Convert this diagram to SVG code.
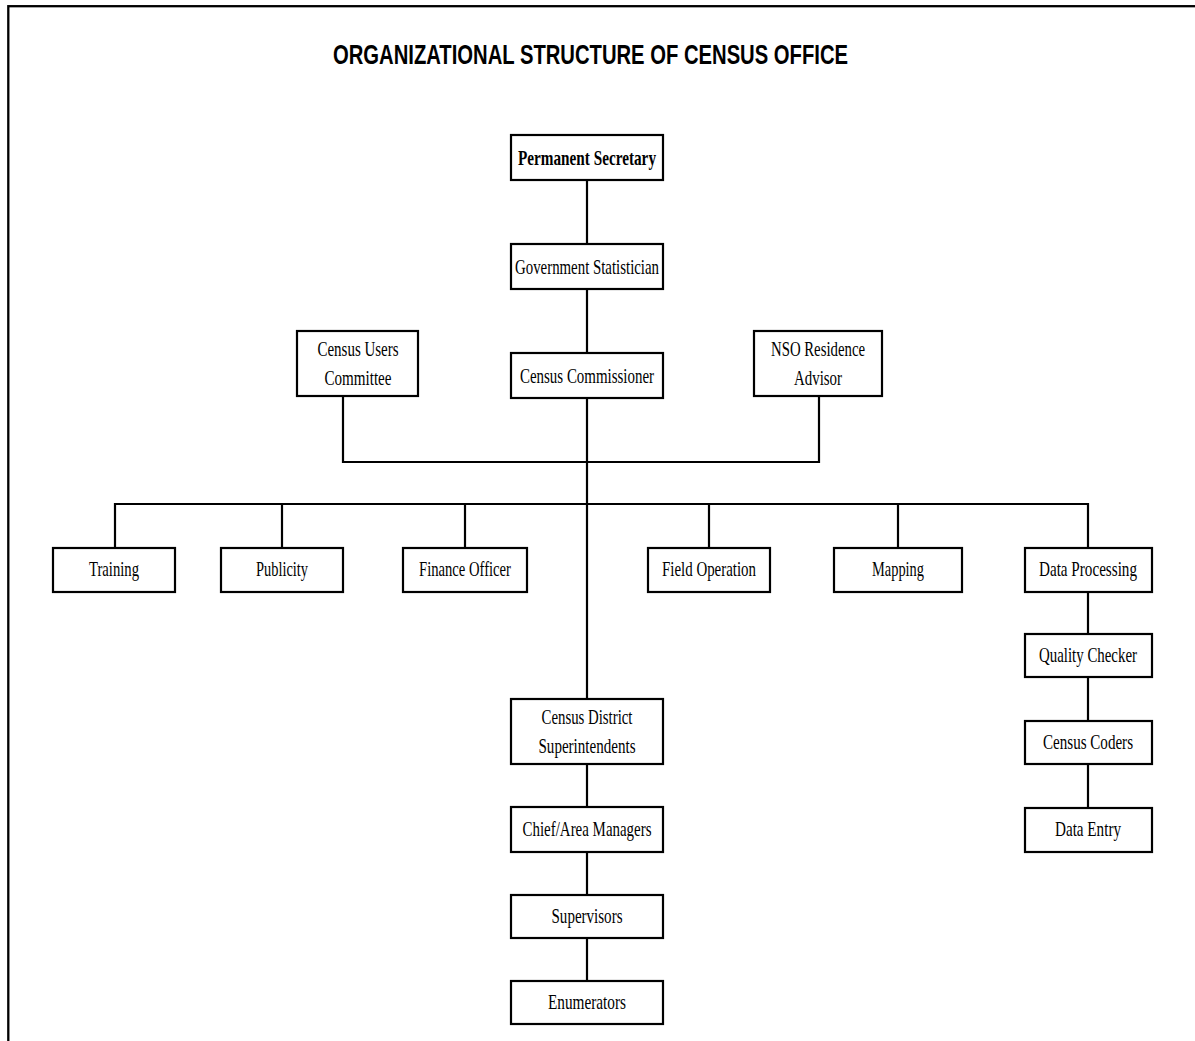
<svg xmlns="http://www.w3.org/2000/svg" width="1195" height="1041" viewBox="0 0 1195 1041">
<style>
.bx{fill:#fff;stroke:#000;stroke-width:2.2}
.t{font-family:"Liberation Serif","Times New Roman",serif;font-size:22px;fill:#000;text-anchor:middle}
.b{font-weight:bold}
.ln{stroke:#000;stroke-width:2.2;fill:none}
.ttl{font-family:"Liberation Sans",Arial,sans-serif;font-size:28px;font-weight:bold;fill:#000;text-anchor:middle}
</style>
<rect x="0" y="0" width="1195" height="1041" fill="#fff"/>
<rect x="8.3" y="6.2" width="1250" height="1100" fill="none" stroke="#000" stroke-width="2.3"/>
<text class="ttl" x="590.5" y="64" textLength="515" lengthAdjust="spacingAndGlyphs">ORGANIZATIONAL STRUCTURE OF CENSUS OFFICE</text>
<g id="connectors">
<path class="ln" d="M587 180V244M587 289V353M587 398V699M587 764V807M587 852V895M587 938V981"/>
<path class="ln" d="M343 396V462H819V396"/>
<path class="ln" d="M115 548V504H1088V548M282 504V548M465 504V548M709 504V548M898 504V548"/>
<path class="ln" d="M1088 592V634M1088 677V721M1088 764V808"/>
</g>
<g id="permanent-secretary"><rect class="bx" x="511" y="135" width="152" height="45"/><text class="t b" x="587" y="165" textLength="138" lengthAdjust="spacingAndGlyphs">Permanent Secretary</text></g>
<g id="government-statistician"><rect class="bx" x="511" y="244" width="152" height="45"/><text class="t" x="587" y="274" textLength="144" lengthAdjust="spacingAndGlyphs">Government Statistician</text></g>
<g id="census-commissioner"><rect class="bx" x="511" y="353" width="152" height="45"/><text class="t" x="587" y="383" textLength="134" lengthAdjust="spacingAndGlyphs">Census Commissioner</text></g>
<g id="census-users-committee"><rect class="bx" x="297" y="331" width="121" height="65"/><text class="t" x="358" y="356" textLength="81" lengthAdjust="spacingAndGlyphs">Census Users</text><text class="t" x="358" y="385" textLength="67" lengthAdjust="spacingAndGlyphs">Committee</text></g>
<g id="nso-residence-advisor"><rect class="bx" x="754" y="331" width="128" height="65"/><text class="t" x="818" y="356" textLength="94" lengthAdjust="spacingAndGlyphs">NSO Residence</text><text class="t" x="818" y="385" textLength="48" lengthAdjust="spacingAndGlyphs">Advisor</text></g>
<g id="training"><rect class="bx" x="53" y="548" width="122" height="44"/><text class="t" x="114" y="576" textLength="50" lengthAdjust="spacingAndGlyphs">Training</text></g>
<g id="publicity"><rect class="bx" x="221" y="548" width="122" height="44"/><text class="t" x="282" y="576" textLength="52" lengthAdjust="spacingAndGlyphs">Publicity</text></g>
<g id="finance-officer"><rect class="bx" x="403" y="548" width="124" height="44"/><text class="t" x="465" y="576" textLength="92" lengthAdjust="spacingAndGlyphs">Finance Officer</text></g>
<g id="field-operation"><rect class="bx" x="648" y="548" width="122" height="44"/><text class="t" x="709" y="576" textLength="94" lengthAdjust="spacingAndGlyphs">Field Operation</text></g>
<g id="mapping"><rect class="bx" x="834" y="548" width="128" height="44"/><text class="t" x="898" y="576" textLength="52" lengthAdjust="spacingAndGlyphs">Mapping</text></g>
<g id="data-processing"><rect class="bx" x="1025" y="548" width="127" height="44"/><text class="t" x="1088" y="576" textLength="98" lengthAdjust="spacingAndGlyphs">Data Processing</text></g>
<g id="quality-checker"><rect class="bx" x="1025" y="634" width="127" height="43"/><text class="t" x="1088" y="662" textLength="98" lengthAdjust="spacingAndGlyphs">Quality Checker</text></g>
<g id="census-coders"><rect class="bx" x="1025" y="721" width="127" height="43"/><text class="t" x="1088" y="749" textLength="90" lengthAdjust="spacingAndGlyphs">Census Coders</text></g>
<g id="data-entry"><rect class="bx" x="1025" y="808" width="127" height="44"/><text class="t" x="1088" y="836" textLength="66" lengthAdjust="spacingAndGlyphs">Data Entry</text></g>
<g id="census-district-superintendents"><rect class="bx" x="511" y="699" width="152" height="65"/><text class="t" x="587" y="724" textLength="91" lengthAdjust="spacingAndGlyphs">Census District</text><text class="t" x="587" y="753" textLength="97" lengthAdjust="spacingAndGlyphs">Superintendents</text></g>
<g id="chief-area-managers"><rect class="bx" x="511" y="807" width="152" height="45"/><text class="t" x="587" y="836" textLength="129" lengthAdjust="spacingAndGlyphs">Chief/Area Managers</text></g>
<g id="supervisors"><rect class="bx" x="511" y="895" width="152" height="43"/><text class="t" x="587" y="923" textLength="71" lengthAdjust="spacingAndGlyphs">Supervisors</text></g>
<g id="enumerators"><rect class="bx" x="511" y="981" width="152" height="43"/><text class="t" x="587" y="1009" textLength="78" lengthAdjust="spacingAndGlyphs">Enumerators</text></g>
</svg>
